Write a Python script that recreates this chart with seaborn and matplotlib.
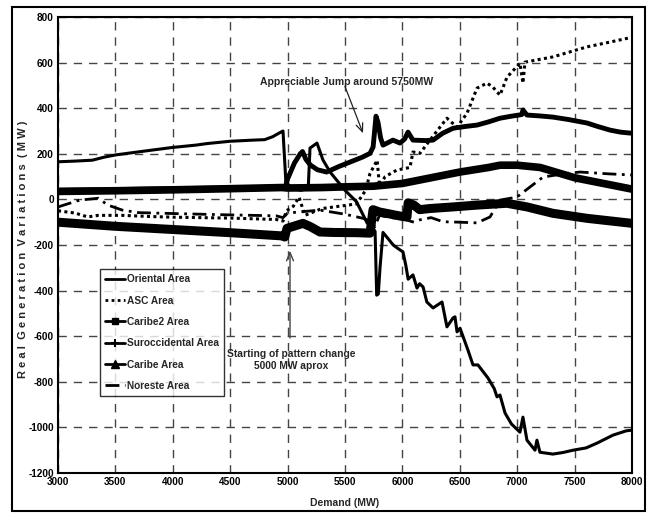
import numpy as np
import pandas as pd
import matplotlib
matplotlib.use("Agg")
import matplotlib.pyplot as plt
from matplotlib.lines import Line2D
from matplotlib.patches import Rectangle
import seaborn as sns

# ---------------- data ----------------
oriental_x = [3000, 3150, 3300, 3400, 3500, 3650, 3800, 4000, 4200, 4300, 4500, 4700, 4800, 4870,
              4930, 4960, 4985, 5050, 5120, 5180, 5195, 5256, 5308, 5370, 5500, 5600, 5692, 5740,
              5762, 5776, 5790, 5805, 5831, 5880, 5920, 5960, 6005, 6030, 6050, 6092, 6127, 6150,
              6180, 6213, 6267, 6345, 6388, 6441, 6458, 6476, 6502, 6571, 6615, 6658, 6745, 6800,
              6824, 6850, 6894, 6950, 7024, 7050, 7085, 7155, 7172, 7198, 7311, 7400, 7486, 7600,
              7695, 7834, 7950, 8000]
oriental_y = [165, 168, 172, 185, 195, 205, 215, 228, 238, 245, 255, 260, 262, 275,
              292, 300, 75, 45, 40, 50, 225, 247, 173, 120, 40, -10, -103, -125,
              -140, -420, -415, -300, -145, -175, -200, -215, -230, -290, -350, -331, -389, -370,
              -384, -450, -476, -450, -559, -520, -515, -581, -565, -661, -726, -726, -783, -830,
              -866, -858, -937, -985, -1021, -955, -1056, -1100, -1056, -1109, -1117, -1110, -1100, -1090,
              -1069, -1034, -1015, -1012]

asc_x = [3000, 3150, 3260, 3350, 3560, 3800, 4000, 4500, 4900, 4960, 4990, 5050, 5100, 5150,
         5200, 5300, 5450, 5600, 5680, 5718, 5780, 5800, 5850, 5953, 6066, 6092, 6153, 6240,
         6388, 6476, 6563, 6650, 6737, 6789, 6850, 6911, 7024, 7050, 7068, 7311, 7608, 7808, 8000]
asc_y = [-50, -60, -77, -70, -70, -75, -78, -82, -88, -95, -50, -30, 10, -70,
         -60, -40, -30, -20, 40, 114, 172, 60, 100, 129, 140, 208, 202, 260,
         356, 317, 378, 488, 510, 492, 457, 536, 597, 510, 602, 625, 669, 690, 711]

caribe2_x = [3000, 3500, 4000, 4500, 4950, 4975, 4995, 5134, 5200, 5282, 5400, 5600, 5718, 5744,
             5800, 5900, 6000, 6040, 6050, 6100, 6150, 6240, 6441, 6650, 6911, 7085, 7311, 7608, 8000]
caribe2_y = [-100, -118, -132, -146, -160, -165, -127, -105, -120, -143, -145, -146, -148, -45,
             -55, -65, -75, -77, -15, -25, -45, -40, -33, -25, -17, -33, -61, -83, -105]

suroc_x = [3000, 3500, 4000, 4500, 4980, 5000, 5060, 5110, 5130, 5160, 5200, 5260, 5340, 5450,
           5550, 5650, 5718, 5745, 5770, 5787, 5810, 5831, 5918, 5979, 6020, 6049, 6092, 6200,
           6267, 6350, 6441, 6550, 6650, 6750, 6850, 6950, 7040, 7050, 7085, 7200, 7311, 7450,
           7608, 7700, 7808, 7900, 8000]
suroc_y = [40, 43, 47, 50, 55, 90, 160, 200, 210, 175, 150, 130, 120, 145,
           165, 185, 202, 230, 365, 339, 270, 238, 260, 247, 265, 295, 260, 258,
           260, 290, 312, 320, 326, 340, 356, 365, 372, 392, 370, 366, 361, 350,
           335, 320, 304, 295, 290]

caribe_x = [3000, 3500, 4000, 4500, 4950, 5000, 5300, 5500, 5750, 6000, 6250, 6500, 6750, 6850,
            7000, 7200, 7500, 7800, 8000]
caribe_y = [35, 38, 42, 47, 52, 50, 52, 55, 58, 70, 95, 120, 140, 150,
            150, 140, 95, 65, 45]

noreste_x = [3000, 3190, 3350, 3435, 3560, 3700, 4000, 4500, 4900, 4960, 5000, 5100, 5282, 5500,
             5657, 5720, 5760, 5800, 5900, 6000, 6100, 6150, 6250, 6354, 6500, 6650, 6763, 6850,
             6997, 7100, 7225, 7400, 7547, 7800, 8000]
noreste_y = [-33, -3, 5, -25, -47, -58, -62, -68, -72, -80, -60, -55, -47, -65,
             -83, -95, -120, -70, -80, -85, -100, -90, -80, -98, -100, -103, -77, -3,
             10, 50, 98, 112, 120, 112, 107]

series_names = ["Oriental Area", "ASC Area", "Caribe2 Area", "Suroccidental Area",
                "Caribe Area", "Noreste Area"]
x_ticks = [3000, 3500, 4000, 4500, 5000, 5500, 6000, 6500, 7000, 7500, 8000]
y_ticks = [-1200, -1000, -800, -600, -400, -200, 0, 200, 400, 600, 800]

# ---------------- plotting ----------------
sns.set_style("white")
FONT = ["Liberation Sans", "DejaVu Sans"]
plt.rcParams["font.family"] = FONT
plt.rcParams["font.weight"] = "bold"

fig = plt.figure(figsize=(6.49, 5.14), dpi=100)
ax = fig.add_axes([58 / 649, 41 / 514, 574 / 649, 456 / 514])

styles = [
    (oriental_x, oriental_y, dict(lw=2.2, linestyle="-")),
    (asc_x, asc_y, dict(lw=2.2, linestyle=(0, (1, 1.1)))),
    (caribe2_x, caribe2_y, dict(lw=6.5, linestyle="-")),
    (suroc_x, suroc_y, dict(lw=3.5, linestyle="-")),
    (caribe_x, caribe_y, dict(lw=5.5, linestyle="-")),
    (noreste_x, noreste_y, dict(lw=2.0, linestyle=(0, (5, 2, 1, 2)))),
]
for (xs, ys, st), name in zip(styles, series_names):
    df = pd.DataFrame({"Demand": xs, "Value": ys})
    sns.lineplot(data=df, x="Demand", y="Value", ax=ax, color="black",
                 estimator=None, sort=False, legend=False, **st)

ax.set_xlim(3000, 8000)
ax.set_ylim(-1200, 800)
ax.set_xticks(x_ticks)
ax.set_yticks(y_ticks)
ax.set_xticklabels([str(v) for v in x_ticks], fontsize=7.2, fontweight="bold")
ax.set_yticklabels([str(v) for v in y_ticks], fontsize=7.2, fontweight="bold")
ax.tick_params(direction="in", length=3, width=1, pad=3, colors="black")
ax.grid(True, color="#444444", linestyle=(0, (6, 5)), lw=1.0)
for s in ax.spines.values():
    s.set_color("black")
    s.set_linewidth(1.5)

ax.set_xlabel("Demand (MW)", fontsize=7.5, fontweight="bold")
ax.xaxis.set_label_coords(0.5, -0.055)
ax.set_ylabel("R e a l  G e n e r a t i o n  V a r i a t i o n s  ( M W )",
              fontsize=8, fontweight="bold")
ax.yaxis.set_label_coords(-0.052, 0.49)

# annotations
ax.text(5517, 515, "Appreciable Jump around 5750MW", ha="center", va="center",
        fontsize=7.5, fontweight="bold")
ax.annotate("", xy=(5657, 290), xytext=(5500, 495),
            arrowprops=dict(arrowstyle="->,head_length=0.6,head_width=0.25", lw=0.9,
                            color="#222222", shrinkA=0, shrinkB=0))
ax.text(5030, -704, "Starting of pattern change\n5000 MW aprox", ha="center", va="center",
        fontsize=7.4, fontweight="bold", linespacing=1.3)
ax.annotate("", xy=(5021, -225), xytext=(5021, -608),
            arrowprops=dict(arrowstyle="->,head_length=0.6,head_width=0.25", lw=1.0,
                            color="#444444", shrinkA=0, shrinkB=0))

# legend
handles = [
    Line2D([], [], color="black", lw=2.0),
    Line2D([], [], color="black", lw=2.0, linestyle=(0, (1, 1.2))),
    Line2D([], [], color="black", lw=2.0, marker="s", markersize=5),
    Line2D([], [], color="black", lw=2.0, marker="+", markersize=6, markeredgewidth=1.5),
    Line2D([], [], color="black", lw=2.0, marker="^", markersize=6),
    Line2D([], [], color="black", lw=2.0, linestyle=(0, (5, 2, 1, 2))),
]
leg = ax.legend(handles, series_names, loc="upper left", bbox_to_anchor=(0.073, 0.447),
                borderaxespad=0, frameon=True, fancybox=False, handlelength=2.0,
                handletextpad=0.2, labelspacing=1.12, borderpad=0.5,
                prop=dict(family=FONT, weight="bold", size=7.3))
leg.get_frame().set_edgecolor("black")
leg.get_frame().set_linewidth(1.0)

# outer frame around the figure
fig.patches.append(Rectangle((12 / 649, 3 / 514), 633 / 649, 504 / 514, transform=fig.transFigure,
                             fill=False, edgecolor="black", lw=1.5))

fig.savefig("out.png", dpi=100)
